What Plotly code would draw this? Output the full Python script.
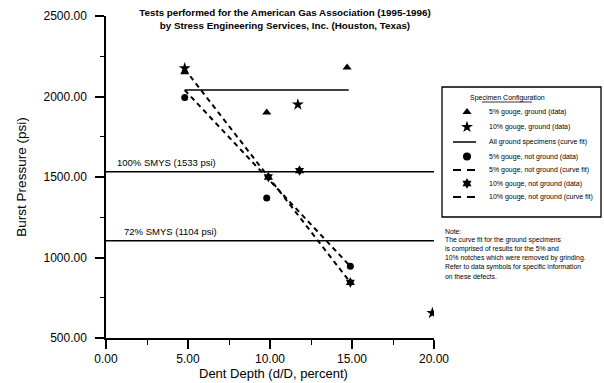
import plotly.graph_objects as go

# ---------------- data ----------------
g5_x = [4.8, 9.8, 14.7]          # 5% gouge, ground (data)
g5_y = [2150, 1900, 2180]
g10_x = [4.8, 11.7, 19.9]        # 10% gouge, ground (data)
g10_y = [2175, 1950, 655]
fit_ground_x = [4.8, 14.8]       # all ground specimens (curve fit)
fit_ground_y = [2040, 2040]
n5_x = [4.8, 9.8, 14.9]          # 5% gouge, not ground (data)
n5_y = [1994, 1370, 945]
n5_fit_x = [4.8, 14.9]           # 5% gouge, not ground (curve fit)
n5_fit_y = [2040, 945]
n10_x = [9.9, 11.8, 14.9]        # 10% gouge, not ground (data)
n10_y = [1500, 1540, 845]
n10_fit_x = [4.8, 14.9]          # 10% gouge, not ground (curve fit)
n10_fit_y = [2170, 845]
smys_x = [0, 20]
smys100_y = [1533, 1533]
smys72_y = [1104, 1104]

legend_labels = [
    "5% gouge, ground (data)",
    "10% gouge, ground (data)",
    "All ground specimens (curve fit)",
    "5% gouge, not ground (data)",
    "5% gouge, not ground (curve fit)",
    "10% gouge, not ground (data)",
    "10% gouge, not ground (curve fit)",
]
note_lines = [
    "Note:",
    "The curve fit for the ground specimens",
    "is comprised of results for the 5% and",
    "10% notches which were removed by grinding.",
    "Refer to data symbols for specific information",
    "on these defects.",
]
x_ticks = [0, 5, 10, 15, 20]
y_ticks = [500, 1000, 1500, 2000, 2500]

FONT = "Liberation Sans, Arial, sans-serif"
BLACK = "black"

fig = go.Figure()

# reference lines
fig.add_trace(go.Scatter(x=smys_x, y=smys100_y, mode="lines",
                         line=dict(color=BLACK, width=1.5), showlegend=False))
fig.add_trace(go.Scatter(x=smys_x, y=smys72_y, mode="lines",
                         line=dict(color=BLACK, width=1.5), showlegend=False))
# fits
fig.add_trace(go.Scatter(x=fit_ground_x, y=fit_ground_y, mode="lines",
                         line=dict(color=BLACK, width=1.5), showlegend=False))
fig.add_trace(go.Scatter(x=n5_fit_x, y=n5_fit_y, mode="lines",
                         line=dict(color=BLACK, width=2, dash="5px,4px"), showlegend=False))
fig.add_trace(go.Scatter(x=n10_fit_x, y=n10_fit_y, mode="lines",
                         line=dict(color=BLACK, width=2, dash="5px,4px"), showlegend=False))
# data
fig.add_trace(go.Scatter(x=g5_x, y=g5_y, mode="markers",
                         marker=dict(symbol="triangle-up", size=8, color=BLACK), showlegend=False))
fig.add_trace(go.Scatter(x=g10_x, y=g10_y, mode="markers",
                         marker=dict(symbol="star", size=9, color=BLACK), showlegend=False))
fig.add_trace(go.Scatter(x=n5_x, y=n5_y, mode="markers",
                         marker=dict(symbol="circle", size=7, color=BLACK), showlegend=False))
fig.add_trace(go.Scatter(x=n10_x, y=n10_y, mode="markers",
                         marker=dict(symbol="hexagram", size=8, color=BLACK), showlegend=False))

# ---------------- manual legend on an auxiliary (pixel-unit) axis ----------------
leg_y = [112, 127, 142, 156.5, 170, 183.5, 197]
sym_x = 467
mk = [("triangle-up", 8), ("star", 9), None, ("circle", 8), None, ("hexagram", 8), None]
for i, m in enumerate(mk):
    if m is not None:
        fig.add_trace(go.Scatter(x=[sym_x], y=[leg_y[i]], mode="markers", xaxis="x2", yaxis="y2",
                                 marker=dict(symbol=m[0], size=m[1], color=BLACK), showlegend=False))
fig.add_trace(go.Scatter(x=[453, 476], y=[leg_y[2]] * 2, mode="lines", xaxis="x2", yaxis="y2",
                         line=dict(color=BLACK, width=1.5), showlegend=False))
for i in (4, 6):
    fig.add_trace(go.Scatter(x=[453, 477], y=[leg_y[i]] * 2, mode="lines", xaxis="x2", yaxis="y2",
                             line=dict(color=BLACK, width=2, dash="8px,6px"), showlegend=False))

annotations = []
for lab, yy in zip(legend_labels, leg_y):
    annotations.append(dict(x=487, y=yy, xref="x2", yref="y2", text=lab, showarrow=False,
                            xanchor="left", yanchor="middle",
                            font=dict(family=FONT, size=7, color=BLACK)))
annotations.append(dict(x=507, y=98, xref="x2", yref="y2", text="Specimen Configuration",
                        showarrow=False, xanchor="center", yanchor="middle",
                        font=dict(family=FONT, size=7, color=BLACK)))
for j, ln in enumerate(note_lines):
    annotations.append(dict(x=443, y=231 + 9 * j, xref="x2", yref="y2", text=ln, showarrow=False,
                            xanchor="left", yanchor="middle",
                            font=dict(family=FONT, size=6.8, color=BLACK)))
# SMYS labels
annotations.append(dict(x=0.55, y=1533, xref="x", yref="y", text="100% SMYS (1533 psi)",
                        showarrow=False, xanchor="left", yanchor="bottom", yshift=2,
                        font=dict(family=FONT, size=9.5, color=BLACK)))
annotations.append(dict(x=1.0, y=1104, xref="x", yref="y", text="72% SMYS (1104 psi)",
                        showarrow=False, xanchor="left", yanchor="bottom", yshift=2,
                        font=dict(family=FONT, size=9.5, color=BLACK)))
# x-axis title (placed tight under the tick labels as in the reference)
annotations.append(dict(x=10.2, y=-(373 - 338) / 322, xref="x", yref="paper",
                        text="Dent Depth (d/D, percent)", showarrow=False,
                        xanchor="center", yanchor="middle",
                        font=dict(family=FONT, size=13, color=BLACK)))

shapes = [
    dict(type="rect", xref="x2", yref="y2", x0=442, x1=601, y0=87, y1=217,
         line=dict(color=BLACK, width=1.3), fillcolor="rgba(0,0,0,0)"),
    dict(type="line", xref="x2", yref="y2", x0=482, x1=532, y0=102, y1=102,
         line=dict(color=BLACK, width=0.8)),
]

fig.update_layout(
    width=604, height=383,
    margin=dict(l=106, r=2, t=16, b=45, autoexpand=False),
    paper_bgcolor="white", plot_bgcolor="white",
    font=dict(family=FONT, color=BLACK),
    title=dict(text="<b>Tests performed for the American Gas Association (1995-1996)<br>"
                    "by Stress Engineering Services, Inc. (Houston, Texas)</b>",
               x=285 / 604, xanchor="center", xref="container",
               y=1 - 16 / 383, yanchor="middle", yref="container",
               font=dict(family=FONT, size=9.8, color=BLACK)),
    xaxis=dict(domain=[0, 328 / 496], range=[0, 20], tickvals=x_ticks, tickformat=".2f",
               showline=True, linecolor=BLACK, linewidth=1.5, showgrid=False, zeroline=False,
               ticks="outside", ticklen=9, tickcolor=BLACK, tickwidth=1.5,
               ticklabelstandoff=0,
               minor=dict(dtick=2.5, ticks="outside", ticklen=5, tickcolor=BLACK, tickwidth=1.2,
                          showgrid=False),
               tickfont=dict(family=FONT, size=12, color=BLACK)),
    yaxis=dict(range=[500, 2500], tickvals=y_ticks, tickformat=".2f",
               showline=True, linecolor=BLACK, linewidth=1.5, showgrid=False, zeroline=False,
               ticks="outside", ticklen=9, tickcolor=BLACK, tickwidth=1.5,
               ticklabelstandoff=6,
               minor=dict(dtick=250, ticks="outside", ticklen=4, tickcolor=BLACK, tickwidth=1.2,
                          showgrid=False),
               tickfont=dict(family=FONT, size=12, color=BLACK),
               title=dict(text="Burst Pressure (psi)", standoff=14,
                          font=dict(family=FONT, size=13.5, color=BLACK))),
    xaxis2=dict(domain=[(440 - 106) / 496, 1], range=[440, 602], visible=False, anchor="y2"),
    yaxis2=dict(domain=[0, 1], range=[338, 16], visible=False, anchor="x2"),
    annotations=annotations,
    shapes=shapes,
)

fig.write_html("out.html",
               config={"displayModeBar": False},
               post_script="document.body.style.margin='0';document.body.style.padding='0';")
